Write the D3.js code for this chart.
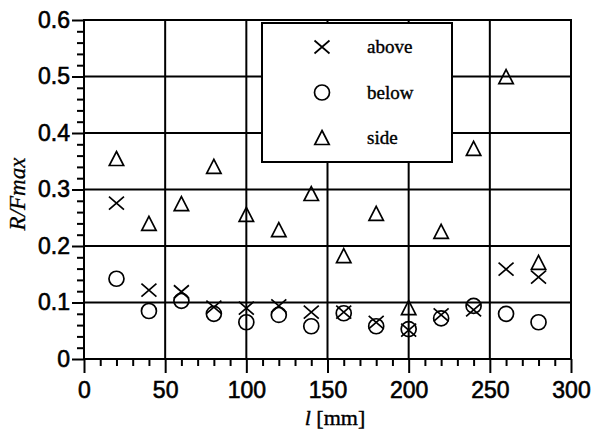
<!DOCTYPE html>
<html>
<head>
<meta charset="utf-8">
<script src="https://cdn.jsdelivr.net/npm/d3@7"></script>
<style>
  html, body { margin: 0; padding: 0; background: #fff; }
  svg { display: block; }
</style>
</head>
<body>
<svg id="chart" width="601" height="434"></svg>
<script>
// Distance along the member, l [mm]
const lengths = [20, 40, 60, 80, 100, 120, 140, 160, 180, 200, 220, 240, 260, 280];
// R/Fmax ratio for each loading position
const above = [0.276, 0.122, 0.119, 0.092, 0.090, 0.094, 0.083, 0.083, 0.065, 0.051, 0.078, 0.087, 0.159, 0.145];
const below = [0.142, 0.085, 0.103, 0.080, 0.065, 0.078, 0.058, 0.081, 0.058, 0.053, 0.072, 0.094, 0.080, 0.065];
const side  = [0.354, 0.239, 0.274, 0.340, 0.255, 0.228, 0.292, 0.182, 0.257, 0.090, 0.225, 0.372, 0.499, 0.170];

const xTicks = [0, 50, 100, 150, 200, 250, 300];
const yTicks = [0, 0.1, 0.2, 0.3, 0.4, 0.5, 0.6];
const seriesNames = ["above", "below", "side"];

const svg = d3.select("#chart");
const plotLeft = 84, plotRight = 571, plotTop = 20, plotBottom = 359;

const x = d3.scaleLinear().domain([0, 300]).range([plotLeft, plotRight]);
const y = d3.scaleLinear().domain([0, 0.6]).range([plotBottom, plotTop]);

const ink = "#000";
const tickFont = "'Liberation Sans', Arial, Helvetica, sans-serif";
const serif = "'Liberation Serif', 'Times New Roman', serif";

// Grid lines at every major tick
const grid = svg.append("g");
grid.selectAll("line.gx").data(xTicks).join("line").attr("class", "gx")
  .attr("x1", d => x(d)).attr("x2", d => x(d))
  .attr("y1", plotTop).attr("y2", plotBottom)
  .attr("stroke", ink).attr("stroke-width", 2);
grid.selectAll("line.gy").data(yTicks).join("line").attr("class", "gy")
  .attr("x1", plotLeft).attr("x2", plotRight)
  .attr("y1", d => y(d)).attr("y2", d => y(d))
  .attr("stroke", ink).attr("stroke-width", 2);

// Bottom axis: major ticks every 50, minor ticks every 10
const xAxis = svg.append("g").attr("transform", `translate(0,${plotBottom})`)
  .call(d3.axisBottom(x).tickValues(xTicks).tickSize(14).tickPadding(9).tickFormat(d3.format("d")));
xAxis.select(".domain").remove();
xAxis.selectAll(".tick line").attr("stroke-width", 2);
xAxis.selectAll("text").attr("font-family", tickFont).attr("font-size", 23)
  .attr("fill", ink).attr("stroke", ink).attr("stroke-width", 0.6);

const xMinor = svg.append("g").attr("transform", `translate(0,${plotBottom})`)
  .call(d3.axisBottom(x).tickValues(d3.range(0, 301, 10).filter(v => v % 50 !== 0)).tickSize(7).tickFormat(""));
xMinor.select(".domain").remove();
xMinor.selectAll(".tick line").attr("stroke-width", 2);

// Left axis: major ticks every 0.1, minor ticks every 0.02
const yAxis = svg.append("g").attr("transform", `translate(${plotLeft},0)`)
  .call(d3.axisLeft(y).tickValues(yTicks).tickSize(12).tickPadding(2).tickFormat(d => d === 0 ? "0" : d3.format(".1f")(d)));
yAxis.select(".domain").remove();
yAxis.selectAll(".tick line").attr("stroke-width", 2);
yAxis.selectAll("text").attr("font-family", tickFont).attr("font-size", 23)
  .attr("fill", ink).attr("stroke", ink).attr("stroke-width", 0.6);

const yMinorVals = d3.range(0, 31).map(i => i * 0.02).filter(v => Math.abs(v * 10 - Math.round(v * 10)) > 1e-6);
const yMinor = svg.append("g").attr("transform", `translate(${plotLeft},0)`)
  .call(d3.axisLeft(y).tickValues(yMinorVals).tickSize(7).tickFormat(""));
yMinor.select(".domain").remove();
yMinor.selectAll(".tick line").attr("stroke-width", 2);

// Plot frame
svg.append("rect")
  .attr("x", plotLeft).attr("y", plotTop)
  .attr("width", plotRight - plotLeft).attr("height", plotBottom - plotTop)
  .attr("fill", "none").attr("stroke", ink).attr("stroke-width", 2);

// Marker shapes
function drawMarker(g, kind) {
  if (kind === "above") {
    g.append("path").attr("d", "M-7.5,-6.5L7.5,6.5M-7.5,6.5L7.5,-6.5")
      .attr("stroke", ink).attr("stroke-width", 1.7).attr("fill", "none");
  } else if (kind === "below") {
    g.append("circle").attr("r", 7.5)
      .attr("stroke", ink).attr("stroke-width", 1.7).attr("fill", "none");
  } else {
    g.append("path").attr("d", "M0,-7.5L7.2,6.5L-7.2,6.5Z")
      .attr("stroke", ink).attr("stroke-width", 1.7).attr("fill", "none");
  }
}

// Legend box (opaque, sits over the grid)
const legend = svg.append("g");
legend.append("rect")
  .attr("x", 262).attr("y", 23).attr("width", 190).attr("height", 139)
  .attr("fill", "#fff").attr("stroke", ink).attr("stroke-width", 2);
seriesNames.forEach((name, i) => {
  const cy = 47 + i * 45.5;
  drawMarker(legend.append("g").attr("transform", `translate(322,${cy})`), name);
  legend.append("text").attr("x", 367).attr("y", cy + 6)
    .attr("font-family", serif).attr("font-size", 19).attr("fill", ink)
    .attr("stroke", ink).attr("stroke-width", 0.4)
    .text(name);
});

// Data markers
const series = { above: above, below: below, side: side };
seriesNames.forEach(name => {
  const g = svg.append("g");
  series[name].forEach((v, i) => {
    drawMarker(g.append("g").attr("transform", `translate(${x(lengths[i])},${y(v)})`), name);
  });
});

// Axis titles
const xt = svg.append("text").attr("x", 335).attr("y", 425)
  .attr("text-anchor", "middle").attr("font-family", serif).attr("font-size", 22)
  .attr("fill", ink).attr("stroke", ink).attr("stroke-width", 0.4);
xt.append("tspan").attr("font-style", "italic").text("l");
xt.append("tspan").text(" [mm]");

svg.append("text")
  .attr("transform", "translate(25,194) rotate(-90)")
  .attr("text-anchor", "middle").attr("font-family", serif).attr("font-style", "italic")
  .attr("font-size", 23).attr("fill", ink).attr("stroke", ink).attr("stroke-width", 0.3)
  .text("R/Fmax");
</script>
</body>
</html>
